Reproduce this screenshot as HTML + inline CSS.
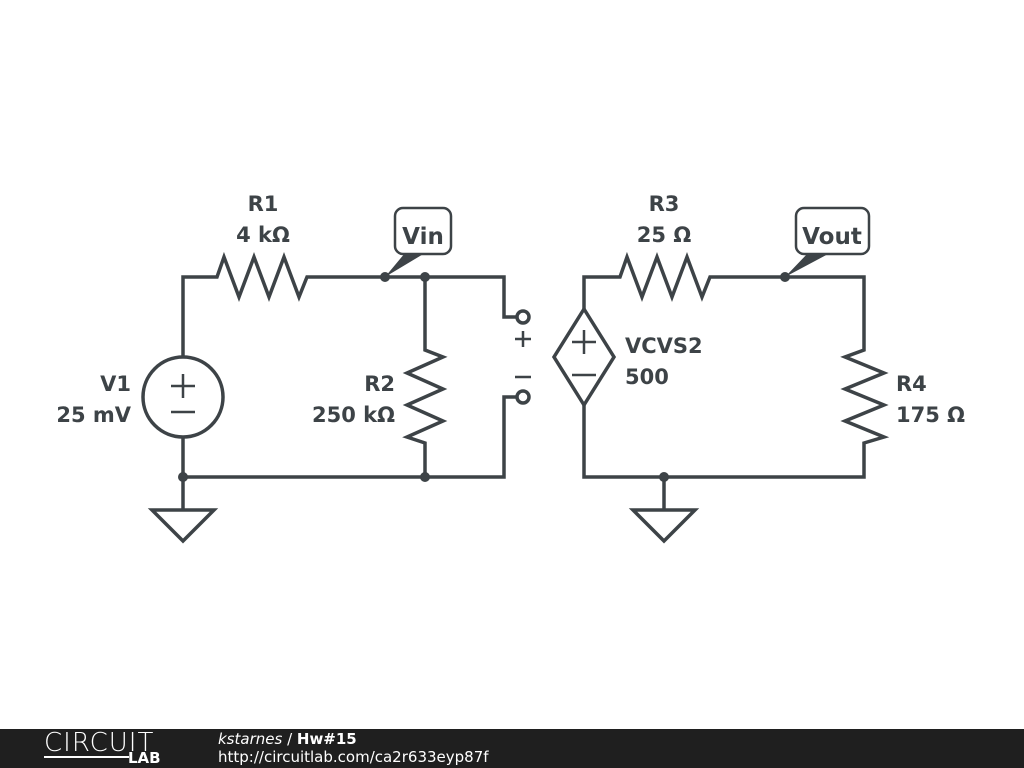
<!DOCTYPE html>
<html><head><style>
body{margin:0;width:1024px;height:768px;background:#fff;overflow:hidden;position:relative;font-family:"DejaVu Sans","Liberation Sans",sans-serif}
.bar{position:absolute;left:0;top:729px;width:1024px;height:39px;background:#1f1f1f}
</style></head><body>
<svg width="1024" height="729" style="position:absolute;left:0;top:0">
<g stroke="#3d4347" stroke-width="3.5" fill="none" stroke-linejoin="miter">
<polyline points="183,357 183,277 217,277 224,257 239,297 254,257 269,297 284,257 299,297 307,277 504,277 504,317 517,317"/>
<circle cx="523" cy="317" r="6"/>
<circle cx="523" cy="397" r="6"/>
<polyline points="517,397 504,397 504,477 183,477 183,437"/>
<line x1="183" y1="477" x2="183" y2="510"/>
<polygon points="152,510 214,510 183,541"/>
<circle cx="183" cy="397" r="40"/>
<polyline points="425,277 425,350 443,357 407,373 443,389 407,405 443,421 407,437 425,443 425,477"/>
<polyline points="584,309 584,277 620,277 627,257 642,297 657,257 672,297 687,257 702,297 710,277 864,277 864,350 845,357 884,373 845,389 884,405 845,421 884,437 864,443 864,477 584,477 584,405"/>
<polygon points="584,309 614,357 584,405 554,357"/>
<line x1="664" y1="477" x2="664" y2="510"/>
<polygon points="633,510 695,510 664,541"/>
<rect x="395" y="208" width="56" height="46" rx="8" fill="#fff" stroke-width="2.5"/>
<rect x="796" y="208" width="73" height="46" rx="8" fill="#fff" stroke-width="2.5"/>
</g>
<g stroke="#3d4347" stroke-width="2.5">
<line x1="171" y1="386" x2="195" y2="386"/><line x1="183" y1="374" x2="183" y2="398"/>
<line x1="171" y1="412" x2="195" y2="412"/>
<line x1="572" y1="342" x2="596" y2="342"/><line x1="584" y1="330" x2="584" y2="354"/>
<line x1="572" y1="375" x2="596" y2="375"/>
<line x1="515" y1="339" x2="531" y2="339"/><line x1="523" y1="331" x2="523" y2="347"/>
<line x1="515" y1="377" x2="531" y2="377"/>
</g>
<g fill="#3d4347">
<circle cx="385" cy="277" r="5"/><circle cx="425" cy="277" r="5"/>
<circle cx="183" cy="477" r="5"/><circle cx="425" cy="477" r="5"/>
<circle cx="785" cy="277" r="5"/><circle cx="664" cy="477" r="5"/>
<polygon points="385,277 405,253 425,253"/>
<polygon points="785,277 808,253 830,253"/>
</g>
<g fill="#3d4347" font-weight="bold" font-size="21" font-family="DejaVu Sans,Liberation Sans,sans-serif">
<text x="263" y="211" text-anchor="middle">R1</text>
<text x="263" y="242" text-anchor="middle">4 kΩ</text>
<text x="664" y="211" text-anchor="middle">R3</text>
<text x="664" y="242" text-anchor="middle">25 Ω</text>
<text x="423" y="244" text-anchor="middle" font-size="23">Vin</text>
<text x="832" y="244" text-anchor="middle" font-size="23">Vout</text>
<text x="131" y="391" text-anchor="end">V1</text>
<text x="131" y="422" text-anchor="end">25 mV</text>
<text x="395" y="391" text-anchor="end">R2</text>
<text x="395" y="422" text-anchor="end">250 kΩ</text>
<text x="625" y="353">VCVS2</text>
<text x="625" y="384">500</text>
<text x="896" y="391">R4</text>
<text x="896" y="422">175 Ω</text>
</g>
</svg>
<div class="bar">
<div style="position:absolute;left:44px;top:1px;color:#fff;font-size:26px;letter-spacing:1px;font-family:'DejaVu Sans',sans-serif;font-weight:200;line-height:26px">CIRCUIT</div>
<div style="position:absolute;left:44px;top:27px;width:85px;height:2px;background:#fff"></div>
<div style="position:absolute;left:128px;top:22px;color:#fff;font-size:15px;font-weight:bold;line-height:15px">LAB</div>
<div style="position:absolute;left:218px;top:1px;color:#fff;font-size:15px;line-height:18px"><i>kstarnes</i> / <b>Hw#15</b></div>
<div style="position:absolute;left:218px;top:19px;color:#fff;font-size:15px;line-height:18px">http://circuitlab.com/ca2r633eyp87f</div>
</div>
</body></html>
